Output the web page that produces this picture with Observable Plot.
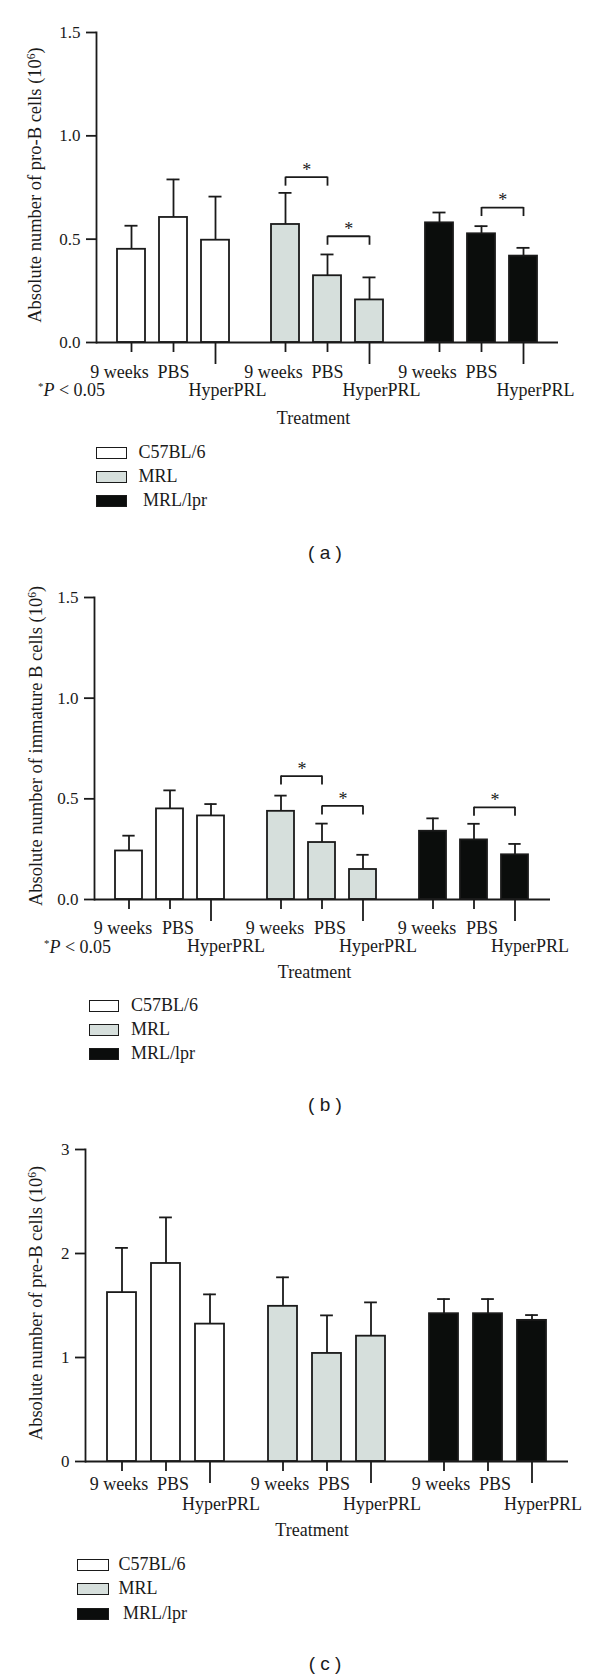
<!DOCTYPE html>
<html><head><meta charset="utf-8">
<script src="https://cdn.jsdelivr.net/npm/d3@7"></script>
<script src="https://cdn.jsdelivr.net/npm/@observablehq/plot@0.6"></script>
<style>
body{margin:0;background:#fff;}
#root{position:relative;width:600px;height:1677px;font-family:"Liberation Serif",serif;color:#1a1a1a;overflow:hidden;}
.abs{position:absolute;white-space:nowrap;}
.ytitle{font-size:18.5px;line-height:1;transform:translate(-50%,-50%) rotate(-90deg);}
.ytitle sup{font-size:0.62em;vertical-align:0.5em;line-height:0;}
.cap{font-family:"Liberation Sans",Arial,sans-serif;font-size:19px;line-height:1;transform:translate(-50%,-50%);}
.legbox{position:absolute;box-sizing:border-box;border:1.8px solid #1a1a1a;}
.legtext{position:absolute;font-size:18px;line-height:18px;white-space:nowrap;}
.pval{font-size:18px;line-height:18px;}
.pval sup{font-size:0.6em;vertical-align:0.55em;line-height:0;}
</style></head><body><div id="root"></div>
<script>
// ---------- data ----------
const strains = ["C57BL/6", "MRL", "MRL/lpr"];
const treatments = ["9 weeks", "PBS", "HyperPRL"];
const strainFill = ["#ffffff", "#d6dfdc", "#0b0d0c"];

// (a) pro-B cells (10^6): mean and upper error, order strain x treatment
const proBMean = [0.451, 0.605, 0.495, 0.571, 0.323, 0.206, 0.579, 0.526, 0.418];
const proBErr  = [0.114, 0.184, 0.211, 0.153, 0.103, 0.109, 0.050, 0.037, 0.040];
const proBSigStrain = ["MRL", "MRL", "MRL/lpr"];
const proBSigFrom = ["9 weeks", "PBS", "PBS"];
const proBSigTo = ["PBS", "HyperPRL", "HyperPRL"];
const proBSigY = [0.80, 0.514, 0.653];
const proBTicks = [0, 0.5, 1.0, 1.5];

// (b) immature B cells (10^6)
const immMean = [0.241, 0.450, 0.415, 0.438, 0.283, 0.149, 0.339, 0.296, 0.222];
const immErr  = [0.076, 0.092, 0.059, 0.078, 0.094, 0.073, 0.064, 0.080, 0.054];
const immSigStrain = ["MRL", "MRL", "MRL/lpr"];
const immSigFrom = ["9 weeks", "PBS", "PBS"];
const immSigTo = ["PBS", "HyperPRL", "HyperPRL"];
const immSigY = [0.613, 0.465, 0.458];
const immTicks = [0, 0.5, 1.0, 1.5];

// (c) pre-B cells (10^6)
const preBMean = [1.624, 1.904, 1.321, 1.492, 1.039, 1.205, 1.421, 1.421, 1.357];
const preBErr  = [0.430, 0.443, 0.286, 0.279, 0.366, 0.325, 0.141, 0.141, 0.051];
const preBTicks = [0, 1, 2, 3];

// ---------- drawing ----------
const ink = "#1a1a1a";
const sw = 1.8;
const root = document.getElementById("root");

function rowsOf(mean, err) {
  return strains.flatMap((s, i) => treatments.map((t, j) => ({strain: s, treatment: t, mean: mean[i * 3 + j], err: err[i * 3 + j]})));
}
function sigOf(st, fr, to, y) {
  return (st || []).map((s, i) => ({strain: s, from: fr[i], to: to[i], y: y[i]}));
}

function panel(cfg) {
  const rows = rowsOf(cfg.mean, cfg.err);
  const sig = sigOf(cfg.sigStrain, cfg.sigFrom, cfg.sigTo, cfg.sigY);
  const ends = sig.flatMap(d => [{strain: d.strain, x: d.from, y: d.y}, {strain: d.strain, x: d.to, y: d.y}]);
  const W = 600 - cfg.ml - cfg.mr;
  const step = (W / 3) / (3 - 0.34 + 2 * 0.49);
  const bw = step * 0.66;
  const capInset = (bw - 13) / 2;
  const labelMarks = treatments.map((t, j) =>
    Plot.text(rows.filter(d => d.treatment === t), {
      fx: "strain", x: "treatment", text: "treatment", frameAnchor: "bottom",
      dy: cfg.rowDy[j], dx: cfg.labelDx[j], fontSize: 18, lineAnchor: "middle", fill: ink
    }));
  const chart = Plot.plot({
    width: 600, height: cfg.height,
    marginTop: cfg.mt, marginBottom: cfg.mb, marginLeft: cfg.ml, marginRight: cfg.mr,
    style: {fontFamily: "Liberation Serif", fontSize: "18px", color: ink, background: "transparent", overflow: "visible"},
    fx: {domain: strains, axis: null, paddingInner: 0, paddingOuter: 0},
    x: {domain: treatments, axis: null, paddingInner: 0.34, paddingOuter: 0.49},
    y: {domain: [cfg.ticks[0], cfg.ticks[cfg.ticks.length - 1]], axis: null},
    color: {domain: strains, range: strainFill},
    marks: [
      Plot.barY(rows, {fx: "strain", x: "treatment", y: "mean", fill: "strain", stroke: ink, strokeWidth: sw}),
      Plot.ruleX(rows, {fx: "strain", x: "treatment", y1: "mean", y2: d => d.mean + d.err, stroke: ink, strokeWidth: sw}),
      Plot.tickY(rows, {fx: "strain", x: "treatment", y: d => d.mean + d.err, insetLeft: capInset, insetRight: capInset, stroke: ink, strokeWidth: sw}),
      Plot.ruleY([0], {stroke: ink, strokeWidth: sw}),
      Plot.frame({anchor: "left", facetAnchor: "left", stroke: ink, strokeWidth: sw}),
      Plot.axisY(cfg.ticks, {tickSize: 10, tickPadding: 6, tickFormat: cfg.fmt, fontSize: 17, stroke: ink, fill: ink, strokeWidth: sw, label: null}),
      Plot.axisX(["9 weeks", "PBS"], {tickSize: 10, tickFormat: () => "", stroke: ink, strokeWidth: sw, label: null}),
      Plot.axisX(["HyperPRL"], {tickSize: 22, tickFormat: () => "", stroke: ink, strokeWidth: sw, label: null}),
      ...labelMarks,
      Plot.link(sig, {fx: "strain", x1: "from", x2: "to", y1: "y", y2: "y", stroke: ink, strokeWidth: sw}),
      Plot.ruleX(ends, {fx: "strain", x: "x", y1: "y", y2: "y", insetBottom: -9, stroke: ink, strokeWidth: sw}),
      Plot.text(sig, {fx: "strain", x: "from", y: "y", text: () => "*", dx: step / 2, dy: -7, fontSize: 18, lineAnchor: "middle", fill: ink}),
      Plot.text(["Treatment"], {facet: "super", frameAnchor: "bottom", text: d => d, dy: cfg.rowDy[3], dx: cfg.treatDx, fontSize: 18, lineAnchor: "middle", fill: ink})
    ]
  });
  chart.style.position = "absolute";
  chart.style.left = "0px";
  chart.style.top = cfg.top + "px";
  root.appendChild(chart);

  // y-axis title
  const yt = document.createElement("div");
  yt.className = "abs ytitle";
  yt.style.left = cfg.yTitleX + "px";
  yt.style.top = (cfg.top + cfg.mt + (cfg.height - cfg.mt - cfg.mb) / 2 - 2) + "px";
  yt.innerHTML = cfg.yTitle + " (10<sup>6</sup>)";
  root.appendChild(yt);

  // significance note
  if (cfg.pTop !== undefined) {
    const p = document.createElement("div");
    p.className = "abs pval";
    p.style.left = cfg.pLeft + "px";
    p.style.top = cfg.pTop + "px";
    p.innerHTML = "<sup>*</sup><i>P</i> &lt; 0.05";
    root.appendChild(p);
  }

  // legend
  strains.forEach((s, i) => {
    const top = cfg.leg.tops[i];
    const b = document.createElement("div");
    b.className = "legbox";
    b.style.left = cfg.leg.left + "px";
    b.style.top = top + "px";
    b.style.width = cfg.leg.w + "px";
    b.style.height = "12px";
    b.style.background = strainFill[i];
    root.appendChild(b);
    const t = document.createElement("div");
    t.className = "legtext";
    t.style.left = (cfg.leg.text + (i === 2 ? cfg.leg.lprExtra : 0)) + "px";
    t.style.top = (top - 4) + "px";
    t.textContent = s;
    root.appendChild(t);
  });

  // panel caption
  const c = document.createElement("div");
  c.className = "abs cap";
  c.style.left = "325px";
  c.style.top = cfg.capY + "px";
  c.textContent = "( " + cfg.letter + " )";
  root.appendChild(c);
}

const f1 = d3.format(".1f");
const f0 = d3.format("d");

panel({
  top: 0, height: 440, mt: 32, mb: 98, ml: 95, mr: 42,
  mean: proBMean, err: proBErr, ticks: proBTicks, fmt: f1,
  sigStrain: proBSigStrain, sigFrom: proBSigFrom, sigTo: proBSigTo, sigY: proBSigY,
  rowDy: [30, 30, 48, 76], labelDx: [-12, 0, 12], treatDx: -14,
  yTitle: "Absolute number of pro-B cells", yTitleX: 35,
  pLeft: 38, pTop: 381,
  leg: {tops: [447, 471, 495], left: 96, w: 31, text: 138.5, lprExtra: 4.5},
  capY: 552, letter: "a"
});

panel({
  top: 560, height: 430, mt: 37, mb: 91, ml: 93, mr: 49,
  mean: immMean, err: immErr, ticks: immTicks, fmt: f1,
  sigStrain: immSigStrain, sigFrom: immSigFrom, sigTo: immSigTo, sigY: immSigY,
  rowDy: [29, 29, 47, 73], labelDx: [-6, 8, 15], treatDx: -8,
  yTitle: "Absolute number of immature B cells", yTitleX: 36,
  pLeft: 44, pTop: 938,
  leg: {tops: [1000, 1024, 1048], left: 89, w: 30, text: 131, lprExtra: 0},
  capY: 1104, letter: "b"
});

panel({
  top: 1120, height: 425, mt: 29, mb: 84, ml: 84, mr: 32,
  mean: preBMean, err: preBErr, ticks: preBTicks, fmt: f0,
  rowDy: [23, 23, 43, 69], labelDx: [-3, 7, 11], treatDx: -15,
  yTitle: "Absolute number of pre-B cells", yTitleX: 36,
  leg: {tops: [1559, 1583, 1608], left: 77, w: 31.5, text: 118.5, lprExtra: 4.5},
  capY: 1663, letter: "c"
});
</script>
</body></html>
